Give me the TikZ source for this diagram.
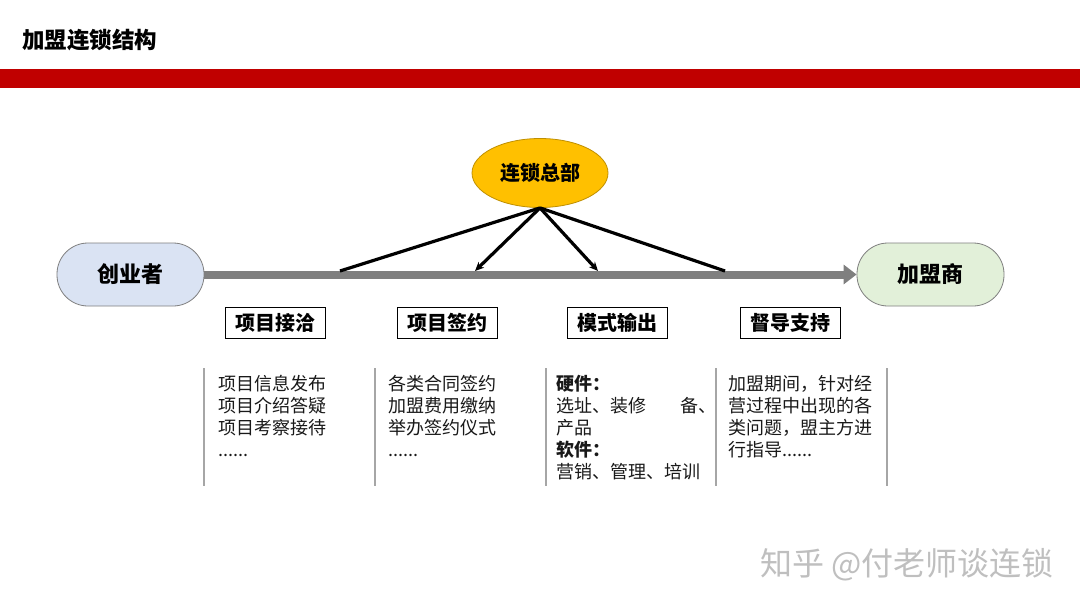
\documentclass[tikz,border=0pt]{standalone}
\usepackage{fontspec}
\setmainfont{Noto Sans CJK SC}
\usetikzlibrary{arrows.meta,shapes.geometric}
\definecolor{barred}{HTML}{C00000}
\definecolor{hqfill}{HTML}{FFC000}
\definecolor{hqdraw}{HTML}{BF8F00}
\definecolor{bluefill}{HTML}{DAE3F3}
\definecolor{greenfill}{HTML}{E2F0D9}
\definecolor{axisgray}{HTML}{7F7F7F}
\definecolor{sepgray}{HTML}{A6A6A6}
\tikzset{
  endnode/.style={draw=axisgray, line width=0.8pt, rounded corners=31pt, minimum width=147pt, minimum height=63pt, font=\fontsize{22pt}{26pt}\selectfont\bfseries, inner sep=0pt},
  phasebox/.style={draw=black, line width=1pt, minimum width=100pt, minimum height=31pt, font=\fontsize{20pt}{24pt}\selectfont\bfseries, inner sep=0pt},
  desc/.style={anchor=north west, align=left, inner sep=0pt, font=\fontsize{18pt}{22pt}\selectfont, text=black!90},
  sepline/.style={draw=sepgray, line width=1.2pt},
  hqline/.style={draw=black, line width=3.2pt},
}
\begin{document}
\begin{tikzpicture}[x=1pt,y=-1pt]
\useasboundingbox (0,0) rectangle (1080,608);
\fill[white] (0,0) rectangle (1080,608);
% title
\node[anchor=west, inner sep=0pt, font=\fontsize{22.5pt}{26pt}\selectfont\bfseries] (title) at (22,40) {加盟连锁结构};
\fill[barred] (0,69) rectangle (1080,88);
% nodes
\node[endnode, fill=bluefill] (cy) at (130.5,274.5) {创业者};
\node[endnode, fill=greenfill] (jm) at (930.5,274.5) {加盟商};
\node[ellipse, draw=hqdraw, line width=0.8pt, fill=hqfill, minimum width=136pt, minimum height=69pt, inner sep=0pt, font=\fontsize{20pt}{24pt}\selectfont\bfseries] (hq) at (540,173) {连锁总部};
% main arrow
\draw[draw=axisgray, line width=8pt, -{Triangle[length=13pt,width=19pt]}] (cy.east) -- (jm.west);
% HQ connectors
\coordinate (p1) at (340,271);
\coordinate (p2) at (475,271);
\coordinate (p3) at (598,271);
\coordinate (p4) at (725,271);
\draw[hqline] (hq.south) -- (p1);
\draw[hqline, -{Stealth[length=9pt,width=8pt]}] (hq.south) -- (p2);
\draw[hqline, -{Stealth[length=9pt,width=8pt]}] (hq.south) -- (p3);
\draw[hqline] (hq.south) -- (p4);
% phase boxes
\node[phasebox] (b1) at (275.5,322.5) {项目接洽};
\node[phasebox] (b2) at (447,322.5) {项目签约};
\node[phasebox] (b3) at (617,322.5) {模式输出};
\node[phasebox] (b4) at (790,322.5) {督导支持};
% separators
\coordinate (s1t) at (204,368); \coordinate (s1b) at (204,486);
\coordinate (s2t) at (375,368); \coordinate (s2b) at (375,486);
\coordinate (s3t) at (546,368); \coordinate (s3b) at (546,486);
\coordinate (s4t) at (716,368); \coordinate (s4b) at (716,486);
\coordinate (s5t) at (887,368); \coordinate (s5b) at (887,486);
\draw[sepline] (s1t) -- (s1b);
\draw[sepline] (s2t) -- (s2b);
\draw[sepline] (s3t) -- (s3b);
\draw[sepline] (s4t) -- (s4b);
\draw[sepline] (s5t) -- (s5b);
% descriptions
\node[desc] (d1) at (218,375) {项目信息发布\\项目介绍答疑\\项目考察接待\\......};
\node[desc] (d2) at (388,375) {各类合同签约\\加盟费用缴纳\\举办签约仪式\\......};
\node[desc] (d3) at (556,375) {\textbf{硬件：}\\选址、装修\hspace{34pt}备、\\产品\\\textbf{软件：}\\营销、管理、培训};
\node[desc] (d4) at (728,375) {加盟期间，针对经\\营过程中出现的各\\类问题，盟主方进\\行指导......};
% watermark
\node[anchor=west, inner sep=0pt, text=black!25, font=\fontsize{32pt}{36pt}\selectfont] (wm) at (760,565) {知乎 @付老师谈连锁};
\end{tikzpicture}
\end{document}
